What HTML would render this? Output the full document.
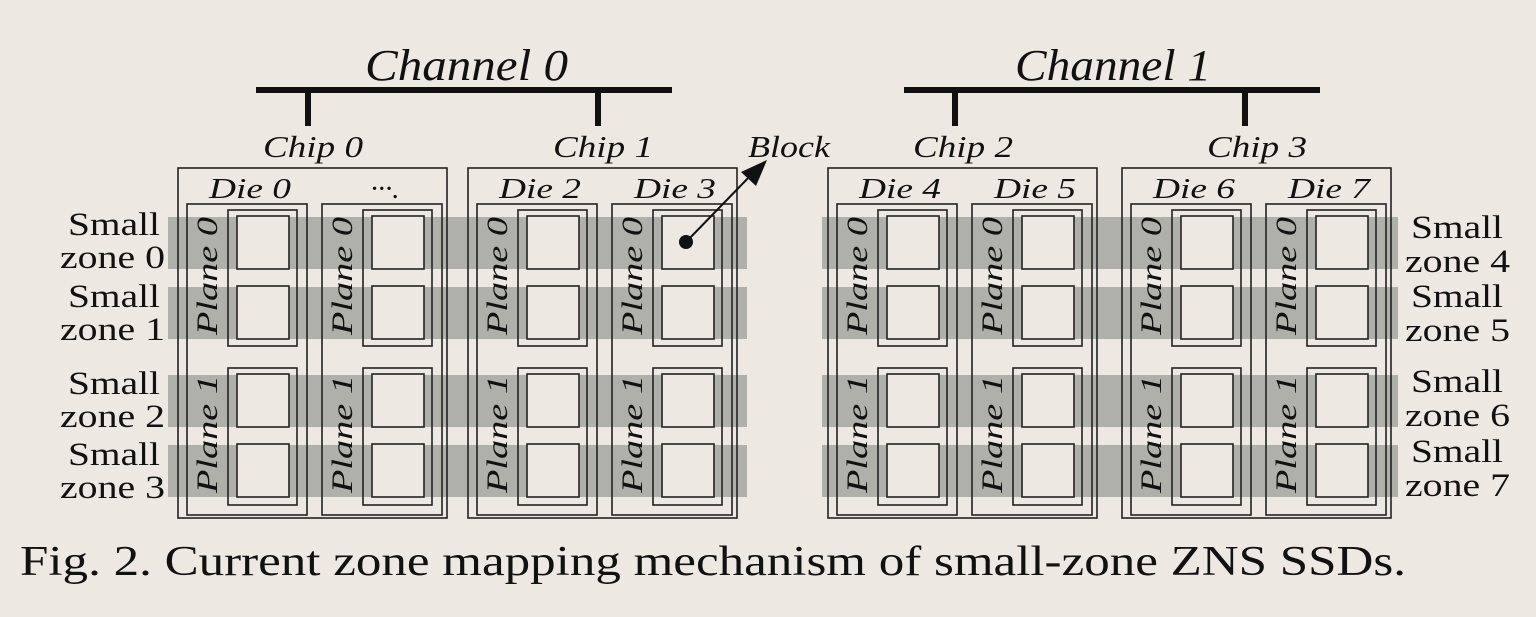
<!DOCTYPE html><html><head><style>body{margin:0;background:#ede9e2}</style></head><body>
<svg width="1536" height="612" xmlns="http://www.w3.org/2000/svg" font-family="Liberation Serif, serif">
<rect width="1536" height="612" fill="#ede9e2"/>
<g fill="#aeb0a9">
<rect x="168" y="217" width="579" height="52"/><rect x="168" y="287" width="579" height="52"/><rect x="168" y="375" width="579" height="52"/><rect x="168" y="445" width="579" height="52"/>
<rect x="822" y="217" width="576" height="52"/><rect x="822" y="287" width="576" height="52"/><rect x="822" y="375" width="576" height="52"/><rect x="822" y="445" width="576" height="52"/>
</g>
<g stroke="#111" stroke-width="6"><line x1="256" y1="90" x2="672" y2="90"/><line x1="308" y1="90" x2="308" y2="126"/><line x1="598" y1="90" x2="598" y2="126"/>
<line x1="904" y1="90" x2="1320" y2="90"/><line x1="955" y1="90" x2="955" y2="126"/><line x1="1245" y1="90" x2="1245" y2="126"/></g>
<g font-style="italic" font-size="44" fill="#111" lengthAdjust="spacingAndGlyphs"><text x="365" y="80" textLength="203" lengthAdjust="spacingAndGlyphs">Channel 0</text><text x="1015" y="80" textLength="196" lengthAdjust="spacingAndGlyphs">Channel 1</text></g>
<g id="chips" fill="none" stroke="#222" stroke-width="1.6"></g>
<g id="txt" font-style="italic" fill="#111"></g>
<line x1="686" y1="242" x2="752" y2="174" stroke="#111" stroke-width="2"/>
<polygon points="767,160 741,172 756,186" fill="#111"/>
<circle cx="686" cy="242" r="7" fill="#111"/>
<text x="748" y="157" font-style="italic" font-size="31" textLength="82" lengthAdjust="spacingAndGlyphs" fill="#111">Block</text>
<g font-size="33" fill="#111">
<text x="68" y="235" textLength="92" lengthAdjust="spacingAndGlyphs">Small</text><text x="60" y="268" textLength="105" lengthAdjust="spacingAndGlyphs">zone 0</text>
<text x="68" y="307" textLength="92" lengthAdjust="spacingAndGlyphs">Small</text><text x="60" y="340" textLength="105" lengthAdjust="spacingAndGlyphs">zone 1</text>
<text x="68" y="394" textLength="92" lengthAdjust="spacingAndGlyphs">Small</text><text x="60" y="427" textLength="105" lengthAdjust="spacingAndGlyphs">zone 2</text>
<text x="68" y="465" textLength="92" lengthAdjust="spacingAndGlyphs">Small</text><text x="60" y="498" textLength="105" lengthAdjust="spacingAndGlyphs">zone 3</text>
<text x="1411" y="238" textLength="92" lengthAdjust="spacingAndGlyphs">Small</text><text x="1405" y="272" textLength="105" lengthAdjust="spacingAndGlyphs">zone 4</text>
<text x="1411" y="307" textLength="92" lengthAdjust="spacingAndGlyphs">Small</text><text x="1405" y="341" textLength="105" lengthAdjust="spacingAndGlyphs">zone 5</text>
<text x="1411" y="392" textLength="92" lengthAdjust="spacingAndGlyphs">Small</text><text x="1405" y="426" textLength="105" lengthAdjust="spacingAndGlyphs">zone 6</text>
<text x="1411" y="462" textLength="92" lengthAdjust="spacingAndGlyphs">Small</text><text x="1405" y="496" textLength="105" lengthAdjust="spacingAndGlyphs">zone 7</text>
</g>
<text x="20" y="575" font-size="42" fill="#111" textLength="1386" lengthAdjust="spacingAndGlyphs">Fig. 2. Current zone mapping mechanism of small-zone ZNS SSDs.</text>
</svg>
<script>
var ns="http://www.w3.org/2000/svg",g=document.getElementById("chips"),t=document.getElementById("txt");
function r(x,y,w,h,f){var e=document.createElementNS(ns,"rect");e.setAttribute("x",x);e.setAttribute("y",y);e.setAttribute("width",w);e.setAttribute("height",h);if(f)e.setAttribute("fill",f);g.appendChild(e);}
function tx(x,y,s,fs,len,rot){var e=document.createElementNS(ns,"text");e.setAttribute("x",x);e.setAttribute("y",y);e.setAttribute("font-size",fs);e.setAttribute("text-anchor","middle");if(len){e.setAttribute("textLength",len);e.setAttribute("lengthAdjust","spacingAndGlyphs");}if(rot)e.setAttribute("transform","rotate(-90 "+x+" "+y+")");e.textContent=s;t.appendChild(e);}
var chips=[[178,"Chip 0",["Die 0","···."]],[468,"Chip 1",["Die 2","Die 3"]],[828,"Chip 2",["Die 4","Die 5"]],[1122,"Chip 3",["Die 6","Die 7"]]];
chips.forEach(function(c){var X=c[0];r(X,168,269,350);tx(X+135,157,c[1],31,100);
[0,1].forEach(function(i){var D=X+9+i*135;r(D,204,120,311);tx(D+63,198,c[2][i],29,c[2][i].length>4?82:null);
r(D+41,210,69,136);r(D+41,368,69,137);
[216,286,374,444].forEach(function(y){r(D+50,y,52,53,"#ede9e2");});
tx(D+30,276,"Plane 0",30,118,1);tx(D+30,434,"Plane 1",30,118,1);});});
</script>
</body></html>
